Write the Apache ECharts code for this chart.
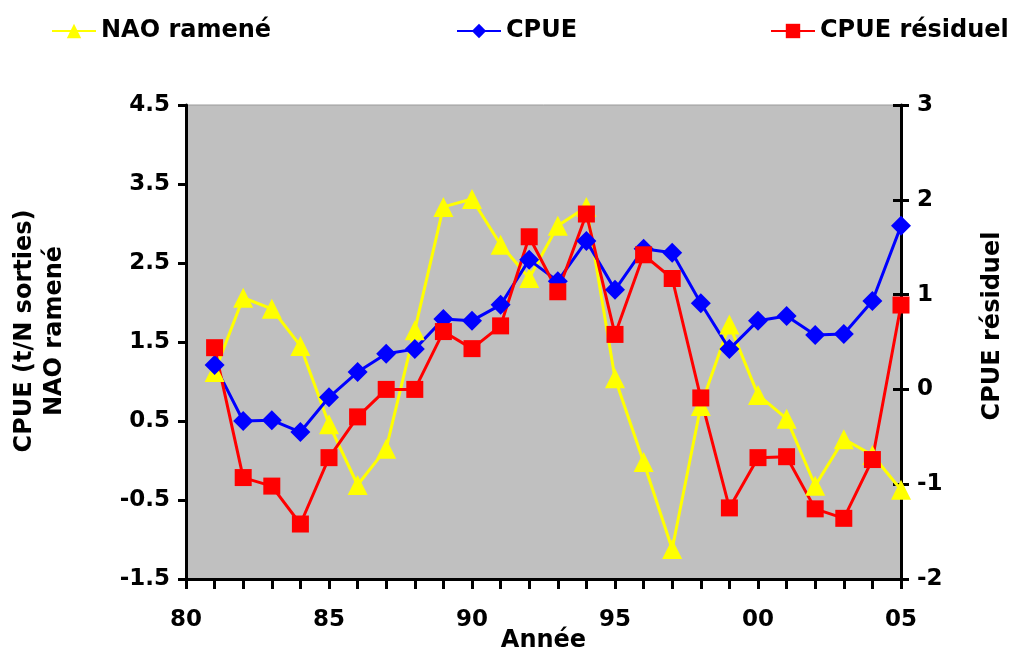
<!DOCTYPE html>
<html lang="fr">
<head>
    <meta charset="UTF-8">
    <title>CPUE NAO</title>
    <script src="https://cdn.jsdelivr.net/npm/echarts@6/dist/echarts.min.js"></script>
    <style>
        body { margin: 0; background: #fff; }
    </style>
</head>
<body>
    <div id="main" style="width: 1010px;height:650px;"></div>
    <script>
        let years = [1981, 1982, 1983, 1984, 1985, 1986, 1987, 1988, 1989, 1990, 1991, 1992, 1993,
            1994, 1995, 1996, 1997, 1998, 1999, 2000, 2001, 2002, 2003, 2004, 2005]
        let naoRamene = [1.12, 2.06, 1.92, 1.45, 0.46, -0.31, 0.15, 1.65, 3.21, 3.31, 2.73, 2.31, 2.97,
            3.21, 1.04, -0.02, -1.12, 0.69, 1.72, 0.83, 0.53, -0.32, 0.27, 0.07, -0.37]
        let cpue = [1.21, 0.50, 0.51, 0.36, 0.80, 1.12, 1.35, 1.41, 1.79, 1.77, 1.97, 2.54, 2.27,
            2.78, 2.16, 2.68, 2.63, 1.99, 1.41, 1.77, 1.83, 1.59, 1.60, 2.02, 2.97]
        let cpueResiduel = [0.44, -0.93, -1.02, -1.42, -0.72, -0.29, 0.0, 0.0, 0.61, 0.43, 0.67, 1.61, 1.03,
            1.85, 0.58, 1.42, 1.17, -0.09, -1.25, -0.72, -0.71, -1.26, -1.36, -0.74, 0.89]
    </script>
    <script>
        var chartDom = document.getElementById('main');
        var myChart = echarts.init(chartDom);
        var option;

        const font = 'DejaVu Sans';
        const pair = arr => arr.map((v, i) => [years[i], v]);
        const boldText = size => ({ fontFamily: font, fontWeight: 'bold', fontSize: size, color: '#000' });

        option = {
            animation: false,
            textStyle: { fontFamily: font },
            legend: [
                { data: ['NAO ramené'], left: 46, top: 14, itemWidth: 44, itemHeight: 18, textStyle: boldText(24) },
                { data: ['CPUE'], left: 451, top: 14, itemWidth: 44, itemHeight: 18, textStyle: boldText(24) },
                { data: ['CPUE résiduel'], left: 765, top: 14, itemWidth: 44, itemHeight: 18, textStyle: boldText(24) }
            ],
            grid: {
                left: 186,
                right: 109,
                top: 105,
                bottom: 71,
                outerBoundsMode: 'none',
                containLabel: false,
                show: true,
                backgroundColor: '#c0c0c0',
                borderColor: '#9a9a9a',
                borderWidth: 1
            },
            xAxis: {
                type: 'value',
                min: 1980,
                max: 2005,
                interval: 1,
                name: 'Année',
                nameLocation: 'middle',
                nameGap: 50,
                nameMoveOverlap: false,
                nameTextStyle: boldText(24),
                axisLine: { onZero: false, lineStyle: { color: '#000', width: 3 } },
                axisTick: { length: 10, lineStyle: { color: '#000', width: 3 } },
                splitLine: { show: false },
                axisLabel: Object.assign(boldText(23), {
                    margin: 30,
                    formatter: function (v) {
                        return v % 5 === 0 ? String(v % 100).padStart(2, '0') : '';
                    }
                })
            },
            yAxis: [
                {
                    type: 'value',
                    min: -1.5,
                    max: 4.5,
                    interval: 1,
                    position: 'left',
                    name: 'CPUE (t/N sorties)\nNAO ramené',
                    nameLocation: 'middle',
                    nameRotate: 90,
                    nameGap: 116,
                    nameMoveOverlap: false,
                    nameTextStyle: Object.assign(boldText(24), { lineHeight: 30, padding: [0, 0, 0, 22] }),
                    axisLine: { show: true, onZero: false, lineStyle: { color: '#000', width: 3 } },
                    axisTick: { show: true, length: 8, lineStyle: { color: '#000', width: 3 } },
                    splitLine: { show: false },
                    axisLabel: Object.assign(boldText(23), {
                        margin: 16,
                        formatter: v => v.toFixed(1)
                    })
                },
                {
                    type: 'value',
                    min: -2,
                    max: 3,
                    interval: 1,
                    position: 'right',
                    name: 'CPUE résiduel',
                    nameLocation: 'middle',
                    nameRotate: 90,
                    nameGap: 80,
                    nameMoveOverlap: false,
                    nameTextStyle: Object.assign(boldText(24), { padding: [0, 0, 0, 32] }),
                    axisLine: { show: true, onZero: false, lineStyle: { color: '#000', width: 3 } },
                    axisTick: { show: true, length: 8, lineStyle: { color: '#000', width: 3 } },
                    splitLine: { show: false },
                    axisLabel: Object.assign(boldText(23), { margin: 16 })
                },
                {
                    // inner half of the crossing ticks on the right axis
                    type: 'value',
                    min: -2,
                    max: 3,
                    interval: 1,
                    position: 'right',
                    axisLine: { show: false, onZero: false },
                    axisTick: { show: true, inside: true, length: 8, lineStyle: { color: '#000', width: 3 } },
                    splitLine: { show: false },
                    axisLabel: { show: false }
                }
            ],
            series: [
                {
                    name: 'NAO ramené',
                    type: 'line',
                    yAxisIndex: 0,
                    data: pair(naoRamene),
                    symbol: 'triangle',
                    symbolSize: 20,
                    color: '#ffff00',
                    lineStyle: { width: 3, color: '#ffff00' },
                    itemStyle: { color: '#ffff00' }
                },
                {
                    name: 'CPUE',
                    type: 'line',
                    yAxisIndex: 0,
                    data: pair(cpue),
                    symbol: 'diamond',
                    symbolSize: 20,
                    color: '#0000ff',
                    lineStyle: { width: 3, color: '#0000ff' },
                    itemStyle: { color: '#0000ff' }
                },
                {
                    name: 'CPUE résiduel',
                    type: 'line',
                    yAxisIndex: 1,
                    data: pair(cpueResiduel),
                    symbol: 'rect',
                    symbolSize: 17,
                    color: '#ff0000',
                    lineStyle: { width: 3, color: '#ff0000' },
                    itemStyle: { color: '#ff0000' }
                }
            ]
        };

        option && myChart.setOption(option);
    </script>
</body>
</html>
